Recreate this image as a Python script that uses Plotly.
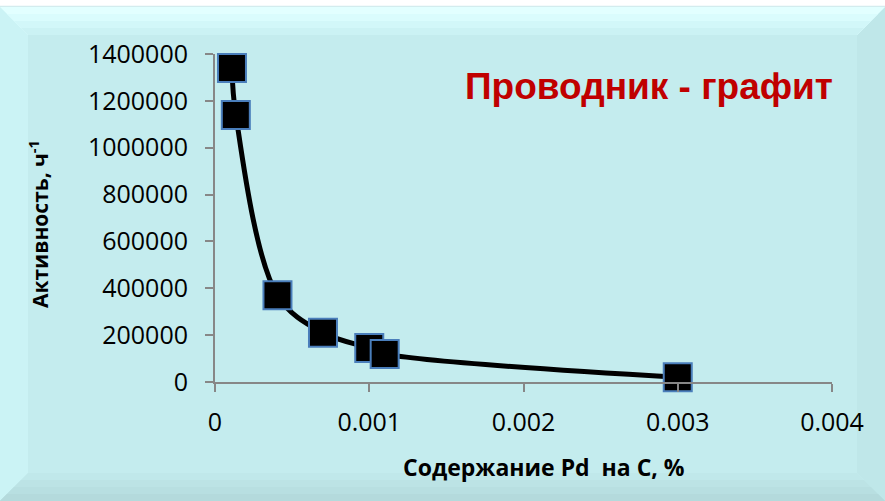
import plotly.graph_objects as go

# ---- data ----
pd_content = [0.00011, 0.000135, 0.000405, 0.0007, 0.001, 0.0011, 0.003]
activity = [1340000, 1140000, 370000, 210000, 145000, 120000, 20000]
x_ticks = [0, 0.001, 0.002, 0.003, 0.004]
x_tick_text = ["0", "0.001", "0.002", "0.003", "0.004"]
y_ticks = [0, 200000, 400000, 600000, 800000, 1000000, 1200000, 1400000]
y_tick_text = ["0", "200000", "400000", "600000", "800000", "1000000", "1200000", "1400000"]

W, H = 885, 501
L, R, T, B = 215, 53, 54, 119
PW, PH = W - L - R, H - T - B


def px(x):
    return (x - L) / PW


def py(y):
    return (H - B - y) / PH


fig = go.Figure()
fig.add_trace(go.Scatter(
    x=pd_content, y=activity, mode="lines+markers",
    line=dict(color="black", width=5, shape="spline", smoothing=1.0),
    marker=dict(symbol="square", size=28, color="black",
                line=dict(color="#4A7EBB", width=2)),
    showlegend=False, cliponaxis=False,
))

shapes = []
base = "#C4ECEE"
# main panel
shapes.append(dict(type="rect", xref="paper", yref="paper",
                   x0=px(0), x1=px(W), y0=py(7), y1=py(H),
                   fillcolor=base, line=dict(width=0), layer="below"))
# thin line at top of panel
shapes.append(dict(type="line", xref="paper", yref="paper",
                   x0=px(0), x1=px(W), y0=py(6.5), y1=py(6.5),
                   line=dict(color="#D3ECEE", width=1.5), layer="below"))


def poly(pts, color):
    d = "M " + " L ".join(f"{px(a)},{py(b)}" for a, b in pts) + " Z"
    return dict(type="path", xref="paper", yref="paper", path=d,
                fillcolor=color, line=dict(width=0), layer="below")


bev = 28
# left bevel (lighter)
shapes.append(poly([(0, 7), (bev, 7 + bev), (bev, H - bev), (0, H)], "#CBF3F5"))
# right bevel (slightly darker)
shapes.append(poly([(W, 7), (W - bev, 7 + bev), (W - bev, H - bev), (W, H)], "#BFE7E9"))
# bottom bevel bands (darker gradient)
for i, c in enumerate(["#C0E8EA", "#BCE3E5", "#B8DFE1", "#B4DADC"]):
    y0 = H - bev + i * bev / 4
    shapes.append(poly([(H - y0, y0), (W - (H - y0), y0), (W, H), (0, H)], c))
# top bevel bands (lighter gradient, brightest at top)
tops = ["#E2FFFF", "#DAFCFD", "#D2F7F9", "#CBF2F4"]
for i, c in enumerate(tops):
    y0 = 7 + i * bev / 4
    shapes.append(poly([(y0 - 7, y0), (W - (y0 - 7), y0), (W - bev, 7 + bev), (bev, 7 + bev)], c))

fig.update_layout(
    width=W, height=H,
    margin=dict(l=L, r=R, t=T, b=B),
    paper_bgcolor="white", plot_bgcolor="rgba(0,0,0,0)",
    shapes=shapes,
    xaxis=dict(range=[0, 0.004], tickvals=x_ticks, ticktext=x_tick_text,
               showgrid=False, zeroline=False, showline=True,
               linecolor="#878787", linewidth=2, ticks="outside",
               ticklen=8, tickwidth=2, tickcolor="#878787",
               tickfont=dict(family="Open Sans", size=25, color="black"),
               ticklabelstandoff=9),
    yaxis=dict(range=[0, 1400000], tickvals=y_ticks, ticktext=y_tick_text,
               showgrid=False, zeroline=False, showline=True,
               linecolor="#878787", linewidth=2, ticks="outside",
               ticklen=8, tickwidth=2, tickcolor="#878787",
               tickfont=dict(family="Open Sans", size=25, color="black"),
               ticklabelstandoff=12),
    annotations=[
        dict(text="Проводник - графит", xref="paper", yref="paper",
             x=px(463), y=py(86), xanchor="left", yanchor="middle",
             showarrow=False,
             font=dict(family="Liberation Sans", size=37, color="#C00000", weight="bold")),
        dict(text="Содержание Pd&nbsp; на С, %", xref="paper", yref="paper",
             x=px(544), y=py(467), xanchor="center", yanchor="middle",
             showarrow=False,
             font=dict(family="Open Sans", size=23, color="black", weight="bold")),
        dict(text="Активность, ч<sup>-1</sup>", xref="paper", yref="paper",
             x=px(38), y=py(224), xanchor="center", yanchor="middle",
             textangle=-90, showarrow=False,
             font=dict(family="Open Sans", size=21, color="black", weight="bold")),
    ],
)

fig.write_html("out.html")
